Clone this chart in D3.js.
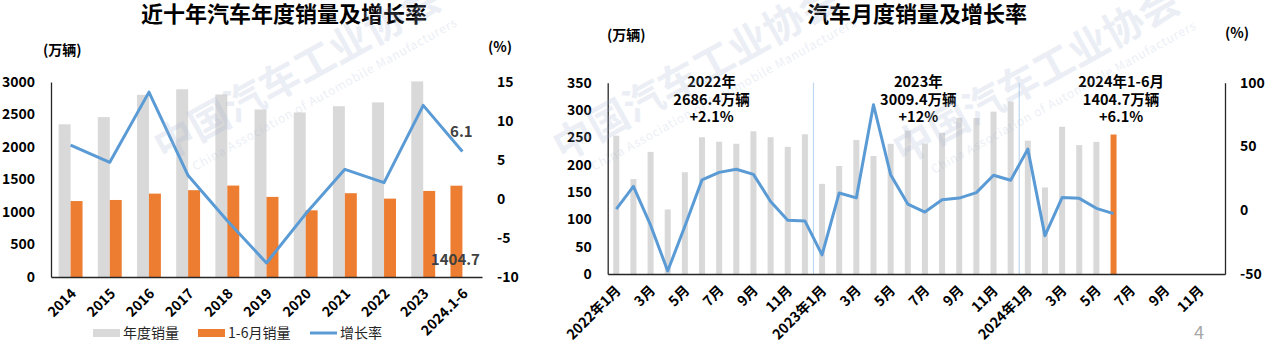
<!DOCTYPE html>
<html>
<head>
<meta charset="utf-8">
<script src="https://cdn.jsdelivr.net/npm/d3@7"></script>
<style>
  body { margin: 0; background: #fff; }
  svg { display: block; }
</style>
</head>
<body>
<svg width="1268" height="351"></svg>
<script>
// ---- data: annual chart ----
var years = ["2014", "2015", "2016", "2017", "2018", "2019", "2020", "2021", "2022", "2023", "2024.1-6"];
var annualSales = [2349.2, 2459.8, 2802.8, 2887.9, 2808.1, 2576.9, 2531.1, 2627.5, 2686.4, 3009.4, 1404.7];
var halfYearSales = [1168.4, 1185.0, 1282.9, 1335.8, 1406.6, 1232.3, 1025.7, 1289.1, 1205.7, 1323.9, null];
var annualGrowth = [6.9, 4.7, 13.7, 3.0, -2.8, -8.2, -1.9, 3.8, 2.1, 12.0, 6.1];
var annualTicks = [0, 500, 1000, 1500, 2000, 2500, 3000];
var annualRateTicks = [-10, -5, 0, 5, 10, 15];

// ---- data: monthly chart (Jan 2022 - Jun 2024, axis runs to Dec 2024) ----
var monthYears = ["2022", "2023", "2024"];
var monthSales = [253.1, 173.7, 223.4, 118.1, 186.2, 250.2, 242.0, 238.3, 261.0, 250.2, 232.6, 255.6,
                  164.9, 197.6, 245.1, 215.9, 238.2, 262.2, 238.7, 258.2, 285.8, 285.3, 297.0, 315.6,
                  243.9, 158.4, 269.4, 235.9, 241.7, 255.2];
var monthGrowth = [0.9, 18.7, -11.7, -47.6, -12.6, 23.8, 29.7, 32.1, 28.1, 6.9, -7.9, -8.4,
                   -35.0, 13.5, 9.7, 82.7, 27.9, 4.8, -1.4, 8.2, 9.5, 13.8, 27.4, 23.5,
                   47.9, -19.9, 9.9, 9.3, 1.5, -2.7];
var monthTicks = [0, 50, 100, 150, 200, 250, 300, 350];
var monthRateTicks = [-50, 0, 50, 100];
var yearNotes = [
  ["2022年", "2686.4万辆", "+2.1%"],
  ["2023年", "3009.4万辆", "+12%"],
  ["2024年1-6月", "1404.7万辆", "+6.1%"]
];

var grey = "#d9d9d9", orange = "#ed7d31", blue = "#5b9bd5", axisColor = "#262626";
var font = '"Noto Sans CJK SC", "Noto Sans", sans-serif';
var plain = function(d) { return String(d); };

var svg = d3.select("svg").attr("font-family", font);

var monthKeys = [];
monthYears.forEach(function(y) {
  for (var m = 1; m <= 12; m++) monthKeys.push(y + "-" + m);
});

// ---------------- watermarks ----------------
function watermark(x, y) {
  var g = svg.append("g")
      .attr("transform", "translate(" + x + "," + y + ") rotate(-29)")
      .attr("fill", "#9fb3d1")
      .attr("opacity", 0.2);
  g.append("text").attr("font-size", 40).attr("font-weight", "bold").text("中国汽车工业协会");
  g.append("text").attr("x", 23).attr("y", 23).attr("font-size", 12)
      .attr("textLength", 300).text("China Association of Automobile Manufacturers");
}

// ---------------- left chart ----------------
var L = {left: 51, right: 482, top: 82, bottom: 277};

var xA = d3.scaleBand().domain(years).range([L.left, L.right]).paddingInner(0.39).paddingOuter(0.195);
var yA = d3.scaleLinear().domain([0, 3000]).range([L.bottom, L.top]);
var yAr = d3.scaleLinear().domain([-10, 15]).range([L.bottom, L.top]);
var bwA = xA.bandwidth() / 2;

svg.append("text")
    .attr("x", 284).attr("y", 22)
    .attr("text-anchor", "middle")
    .attr("font-size", 22).attr("font-weight", "bold")
    .text("近十年汽车年度销量及增长率");

svg.append("text").attr("x", 43).attr("y", 55).attr("font-size", 14).attr("font-weight", "bold").text("(万辆)");
svg.append("text").attr("x", 488).attr("y", 52).attr("font-size", 14).attr("font-weight", "bold").text("(%)");

var gl = svg.append("g");

gl.selectAll(".annual")
    .data(annualSales)
  .enter().append("rect")
    .attr("x", function(d, i) { return xA(years[i]); })
    .attr("width", bwA)
    .attr("y", function(d) { return yA(d); })
    .attr("height", function(d) { return yA(0) - yA(d); })
    .attr("fill", function(d, i) { return i === years.length - 1 ? orange : grey; });

gl.selectAll(".half")
    .data(halfYearSales.filter(function(d) { return d != null; }))
  .enter().append("rect")
    .attr("x", function(d, i) { return xA(years[i]) + bwA; })
    .attr("width", bwA)
    .attr("y", function(d) { return yA(d); })
    .attr("height", function(d) { return yA(0) - yA(d); })
    .attr("fill", orange);

var lineA = d3.line()
    .x(function(d, i) { return xA(years[i]) + xA.bandwidth() / 2; })
    .y(function(d) { return yAr(d); });

gl.append("path")
    .datum(annualGrowth)
    .attr("d", lineA)
    .attr("fill", "none")
    .attr("stroke", blue)
    .attr("stroke-width", 3)
    .attr("stroke-linejoin", "round");

// axes
function styleAxis(g) {
  g.attr("font-family", font).attr("font-size", 14).attr("font-weight", "bold");
  g.selectAll("text").attr("fill", "#000");
  g.select(".domain").attr("stroke", axisColor).attr("stroke-width", 1.3);
}

gl.append("g")
    .attr("transform", "translate(" + L.left + ",0)")
    .call(d3.axisLeft(yA).tickValues(annualTicks).tickFormat(plain).tickSize(0).tickSizeOuter(0).tickPadding(16))
    .call(styleAxis);

gl.append("g")
    .attr("transform", "translate(" + L.right + ",0)")
    .call(d3.axisRight(yAr).tickValues(annualRateTicks).tickFormat(plain).tickSize(0).tickSizeOuter(0).tickPadding(15))
    .call(styleAxis)
    .call(function(g) { g.select(".domain").remove(); });

gl.append("g")
    .attr("transform", "translate(0," + L.bottom + ")")
    .call(d3.axisBottom(xA).tickSize(0).tickSizeOuter(0))
    .call(styleAxis)
    .call(function(g) {
      g.selectAll("text")
        .attr("x", 0).attr("y", 0).attr("dy", "0.35em")
        .attr("text-anchor", "end")
        .attr("transform", "translate(3,14) rotate(-45)");
    });

// data labels
var lastYear = years[years.length - 1];
gl.append("text")
    .attr("x", xA(lastYear) + xA.bandwidth() / 2 - 1)
    .attr("y", yAr(annualGrowth[annualGrowth.length - 1]) - 14)
    .attr("text-anchor", "middle")
    .attr("font-size", 15).attr("font-weight", "bold").attr("fill", "#404040")
    .text(annualGrowth[annualGrowth.length - 1].toFixed(1));
gl.append("text")
    .attr("x", xA(lastYear) + xA.bandwidth() / 2 - 7)
    .attr("y", yA(0) - 12)
    .attr("text-anchor", "middle")
    .attr("font-size", 15).attr("font-weight", "bold").attr("fill", "#404040")
    .text(annualSales[annualSales.length - 1].toFixed(1));

// legend
var legend = svg.append("g").attr("font-size", 14);
var legendItems = [
  {label: "年度销量", type: "rect", color: grey, x: 93},
  {label: "1-6月销量", type: "rect", color: orange, x: 198},
  {label: "增长率", type: "line", color: blue, x: 310}
];
legendItems.forEach(function(d) {
  if (d.type === "rect") {
    legend.append("rect").attr("x", d.x).attr("y", 329).attr("width", 27).attr("height", 8).attr("fill", d.color);
  } else {
    legend.append("line").attr("x1", d.x).attr("x2", d.x + 27).attr("y1", 333).attr("y2", 333)
      .attr("stroke", d.color).attr("stroke-width", 3);
  }
  legend.append("text").attr("x", d.x + 30).attr("y", 338).attr("fill", "#262626").text(d.label);
});

// ---------------- right chart ----------------
var R = {left: 607.7, right: 1225, top: 82.7, bottom: 274};

var xM = d3.scaleBand().domain(monthKeys).range([R.left, R.right]).paddingInner(0.65).paddingOuter(0.325);
var yM = d3.scaleLinear().domain([0, 350]).range([R.bottom, R.top]);
var yMr = d3.scaleLinear().domain([-50, 100]).range([R.bottom, R.top]);
var stepM = xM.step();

svg.append("text")
    .attr("x", 917).attr("y", 22)
    .attr("text-anchor", "middle")
    .attr("font-size", 22).attr("font-weight", "bold")
    .text("汽车月度销量及增长率");

svg.append("text").attr("x", 607).attr("y", 40).attr("font-size", 14).attr("font-weight", "bold").text("(万辆)");
svg.append("text").attr("x", 1225).attr("y", 38).attr("font-size", 14).attr("font-weight", "bold").text("(%)");

var gr = svg.append("g");

gr.selectAll(".month")
    .data(monthSales)
  .enter().append("rect")
    .attr("x", function(d, i) { return xM(monthKeys[i]); })
    .attr("width", xM.bandwidth())
    .attr("y", function(d) { return yM(d); })
    .attr("height", function(d) { return yM(0) - yM(d); })
    .attr("fill", function(d, i) { return i === monthSales.length - 1 ? orange : grey; });

// year separators
gr.selectAll(".sep")
    .data(["2023-1", "2024-1"])
  .enter().append("line")
    .attr("x1", function(d) { return xM(d) - (stepM - xM.bandwidth()) / 2; })
    .attr("x2", function(d) { return xM(d) - (stepM - xM.bandwidth()) / 2; })
    .attr("y1", R.top)
    .attr("y2", R.bottom)
    .attr("stroke", "#bdd7ee")
    .attr("stroke-width", 1.2);

var lineM = d3.line()
    .x(function(d, i) { return xM(monthKeys[i]) + xM.bandwidth() / 2; })
    .y(function(d) { return yMr(d); });

gr.append("path")
    .datum(monthGrowth)
    .attr("d", lineM)
    .attr("fill", "none")
    .attr("stroke", blue)
    .attr("stroke-width", 3)
    .attr("stroke-linejoin", "round");

gr.append("g")
    .attr("transform", "translate(" + R.left + ",0)")
    .call(d3.axisLeft(yM).tickValues(monthTicks).tickFormat(plain).tickSize(0).tickSizeOuter(0).tickPadding(16))
    .call(styleAxis);

gr.append("g")
    .attr("transform", "translate(" + R.right + ",0)")
    .call(d3.axisRight(yMr).tickValues(monthRateTicks).tickFormat(plain).tickSize(0).tickSizeOuter(0).tickPadding(15))
    .call(styleAxis);

gr.append("g")
    .attr("transform", "translate(0," + R.bottom + ")")
    .call(d3.axisBottom(xM).tickSize(0).tickSizeOuter(0)
      .tickFormat(function(d) {
        var p = d.split("-"), m = +p[1];
        if (m % 2 === 0) return "";
        return m === 1 ? p[0] + "年1月" : m + "月";
      }))
    .call(styleAxis)
    .call(function(g) {
      g.selectAll("text")
        .attr("x", 0).attr("y", 0).attr("dy", "0.35em")
        .attr("text-anchor", "end")
        .attr("transform", "translate(2,14) rotate(-45)");
    });

// year notes
var noteX = [xM("2022-7") - stepM / 2 + 4, xM("2023-7") - stepM / 2 + 5, xM("2024-7") - stepM / 2 + 2];
yearNotes.forEach(function(lines, k) {
  var t = gr.append("text")
      .attr("text-anchor", "middle")
      .attr("font-size", 14.5).attr("font-weight", "bold").attr("fill", "#000");
  lines.forEach(function(s, j) {
    t.append("tspan").attr("x", noteX[k]).attr("y", 87 + j * 17.5).text(s);
  });
});

// page number
svg.append("text").attr("x", 1199).attr("y", 339).attr("text-anchor", "middle")
    .attr("font-size", 18).attr("fill", "#a6a6a6").text("4");

watermark(164, 162);
watermark(563, 162);
watermark(903, 165);
</script>
</body>
</html>
